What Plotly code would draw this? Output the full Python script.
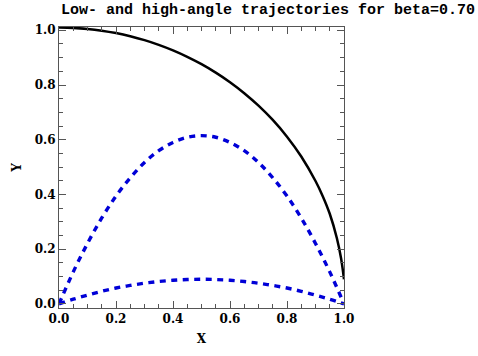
import plotly.graph_objects as go

# Data
x_traj = [0.0, 0.05, 0.1, 0.15, 0.2, 0.25, 0.3, 0.35, 0.4, 0.45, 0.5,
          0.55, 0.6, 0.65, 0.7, 0.75, 0.8, 0.85, 0.9, 0.95, 1.0]
y_high = [0.0, 0.117, 0.221, 0.314, 0.394, 0.461, 0.517, 0.560, 0.590, 0.609, 0.615,
          0.609, 0.590, 0.560, 0.517, 0.461, 0.394, 0.314, 0.221, 0.117, 0.0]
y_low = [0.0, 0.017, 0.032, 0.046, 0.058, 0.0675, 0.0756, 0.0819, 0.0864, 0.0891, 0.090,
         0.0891, 0.0864, 0.0819, 0.0756, 0.0675, 0.058, 0.046, 0.032, 0.017, 0.0]

x_env = [0.0, 0.05, 0.1, 0.15, 0.2, 0.25, 0.3, 0.35, 0.4, 0.45, 0.5, 0.55, 0.6,
         0.65, 0.7, 0.75, 0.8, 0.85, 0.9, 0.925, 0.95, 0.975, 0.99, 1.0]
y_env = [1.010, 1.0087, 1.0049, 0.9986, 0.9897, 0.9782, 0.9639, 0.9467, 0.9265, 0.9030,
         0.8761, 0.8453, 0.8102, 0.7702, 0.7246, 0.6722, 0.6112, 0.5388, 0.4493,
         0.3947, 0.3294, 0.240, 0.165, 0.09]

title_text = "Low- and high-angle trajectories for beta=0.70"
x_label = "X"
y_label = "Y"
tick_vals = [0.0, 0.2, 0.4, 0.6, 0.8, 1.0]
tick_text = ["0.0", "0.2", "0.4", "0.6", "0.8", "1.0"]

FONT = "DejaVu Serif"
TITLE_FONT = "Liberation Mono"
BLUE = "rgb(0,0,215)"

fig = go.Figure()
fig.add_trace(go.Scatter(x=x_env, y=y_env, mode="lines", line_shape="spline",
                         line=dict(color="black", width=2.5), cliponaxis=False))
fig.add_trace(go.Scatter(x=x_traj, y=y_high, mode="lines", line_shape="spline",
                         line=dict(color=BLUE, width=3.4, dash="6px,5.5px"), cliponaxis=False))
fig.add_trace(go.Scatter(x=x_traj, y=y_low, mode="lines", line_shape="spline",
                         line=dict(color=BLUE, width=3.4, dash="6px,5.5px"), cliponaxis=False))

axis_common = dict(
    tickvals=tick_vals, ticktext=tick_text,
    showline=True, linecolor="#555", linewidth=1, mirror="ticks",
    ticks="inside", ticklen=7, tickwidth=1, tickcolor="#555",
    showgrid=False, zeroline=False,
    tickfont=dict(family=FONT, size=12, color="black", weight="bold"),
    minor=dict(dtick=0.05, ticks="inside", ticklen=4, tickwidth=1, tickcolor="#555", showgrid=False),
)

fig.update_layout(
    width=478, height=356,
    margin=dict(l=59, r=134, t=27, b=45),
    paper_bgcolor="white", plot_bgcolor="white",
    showlegend=False,
    xaxis=dict(**axis_common, range=[0, 1],
               title=dict(text=x_label, standoff=9,
                          font=dict(family=FONT, size=12, color="black", weight="bold"))),
    yaxis=dict(**axis_common, range=[-0.015, 1.012],
               title=dict(text=y_label, standoff=10,
                          font=dict(family=FONT, size=12, color="black", weight="bold"))),
    annotations=[dict(text=title_text, xref="paper", yref="paper",
                      x=0.733, y=1.0, yshift=17, xanchor="center", yanchor="middle",
                      showarrow=False,
                      font=dict(family=TITLE_FONT, size=15, color="black", weight="bold"))],
)

fig.write_html("out.html")
